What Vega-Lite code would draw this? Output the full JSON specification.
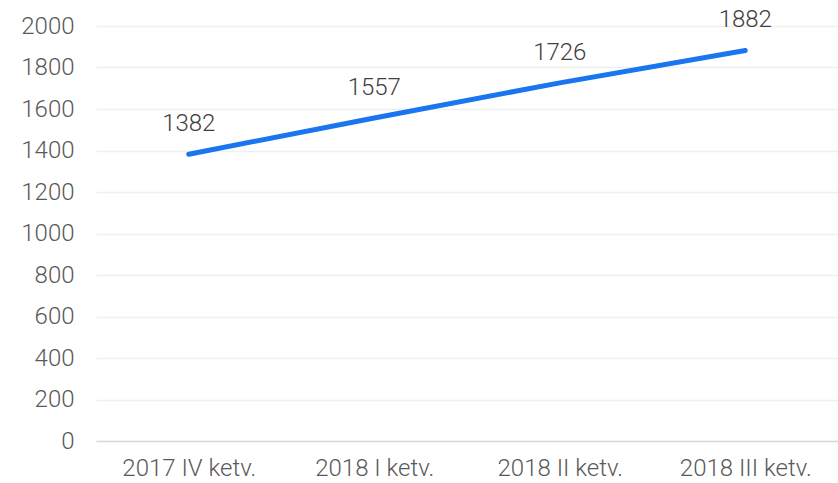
{
  "$schema": "https://vega.github.io/schema/vega-lite/v6.json",
  "width": 742,
  "height": 415,
  "autosize": {"type": "none"},
  "padding": {"left": 96, "top": 26, "right": 0, "bottom": 42},
  "background": "#ffffff",
  "config": {
    "view": {"stroke": null},
    "font": "Roboto"
  },
  "data": {
    "values": [
      {"period": "2017 IV ketv.", "value": 1382},
      {"period": "2018 I ketv.", "value": 1557},
      {"period": "2018 II ketv.", "value": 1726},
      {"period": "2018 III ketv.", "value": 1882}
    ]
  },
  "encoding": {
    "x": {
      "field": "period",
      "type": "ordinal",
      "sort": null,
      "scale": {"paddingInner": 0, "paddingOuter": 0, "align": 0.5},
      "axis": {
        "title": null,
        "labelAngle": 0,
        "ticks": false,
        "grid": false,
        "domainColor": "#d9d9d9",
        "domainWidth": 1.5,
        "labelFontSize": 24,
        "labelFontWeight": 300,
        "labelColor": "#595959",
        "labelPadding": 15
      }
    },
    "y": {
      "field": "value",
      "type": "quantitative",
      "scale": {"domain": [0, 2000], "nice": false},
      "axis": {
        "title": null,
        "format": "d",
        "values": [0, 200, 400, 600, 800, 1000, 1200, 1400, 1600, 1800, 2000],
        "ticks": false,
        "domain": false,
        "gridColor": "#efefef",
        "gridWidth": 1.5,
        "labelFontSize": 24,
        "labelFontWeight": 300,
        "labelColor": "#595959",
        "labelPadding": 22
      }
    }
  },
  "layer": [
    {
      "mark": {"type": "line", "color": "#1a75f0", "strokeWidth": 5, "strokeCap": "round"}
    },
    {
      "mark": {"type": "text", "fontSize": 24, "fontWeight": 300, "color": "#404040", "dy": -30, "baseline": "middle"},
      "encoding": {"text": {"field": "value", "type": "quantitative", "format": "d"}}
    }
  ]
}
